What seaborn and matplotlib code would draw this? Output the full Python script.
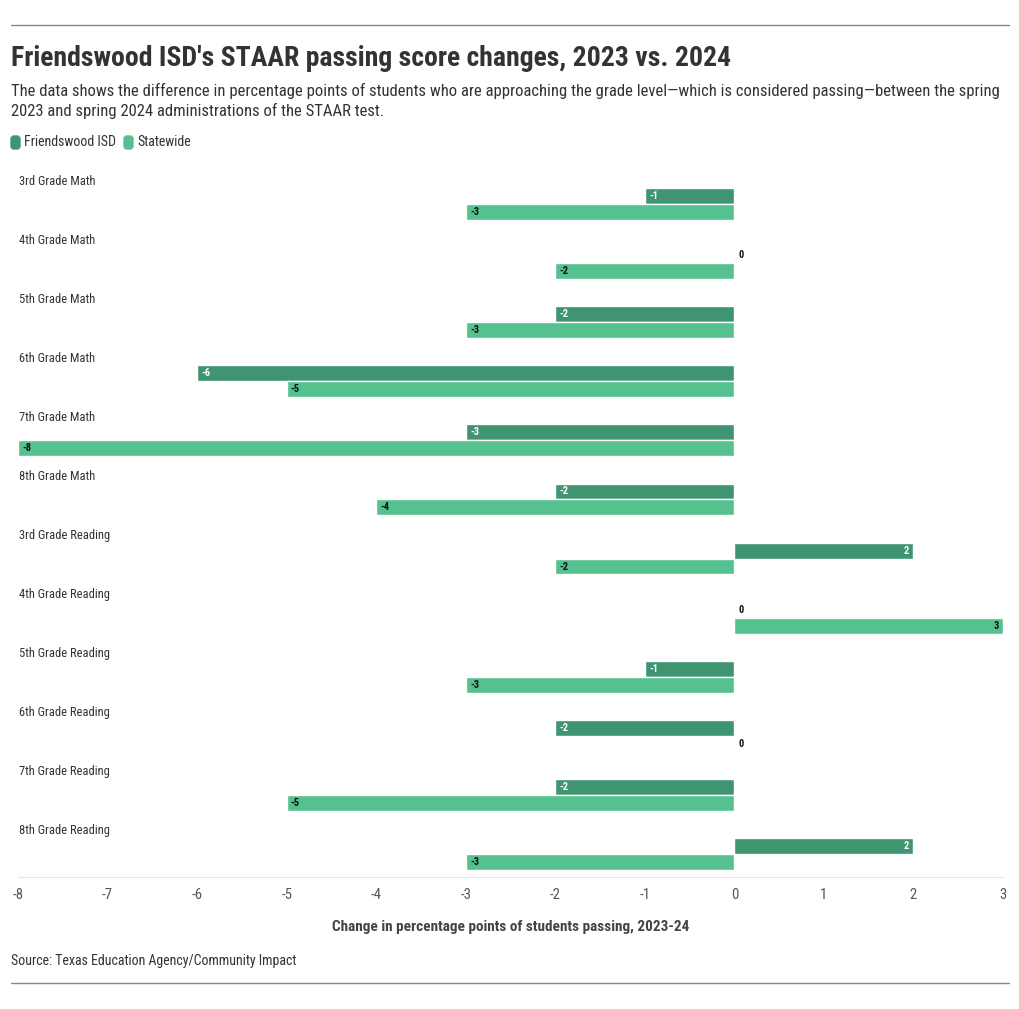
import pandas as pd
import numpy as np
import matplotlib.pyplot as plt
import seaborn as sns
from matplotlib.lines import Line2D
from matplotlib.patches import FancyBboxPatch

# Data

categories = ['3rd Grade Math', '4th Grade Math', '5th Grade Math', '6th Grade Math',
              '7th Grade Math', '8th Grade Math', '3rd Grade Reading', '4th Grade Reading',
              '5th Grade Reading', '6th Grade Reading', '7th Grade Reading', '8th Grade Reading']
friendswood = [-1, 0, -2, -6, -3, -2, 2, 0, -1, -2, -2, 2]
statewide = [-3, -2, -3, -5, -8, -4, -2, 3, -3, 0, -5, -3]
groups = ['Friendswood ISD', 'Statewide']
colors = ['#3f9571', '#55c18f']
x_ticks = list(range(-8, 4))

df = pd.DataFrame({
    'category': categories * 2,
    'change': friendswood + statewide,
    'group': [groups[0]] * len(categories) + [groups[1]] * len(categories),
})

sns.set_style('white')
plt.rcParams['font.family'] = ['Roboto Condensed', 'Roboto', 'DejaVu Sans']

W, H = 1020, 1009
fig = plt.figure(figsize=(W / 100, H / 100), dpi=100)
ax = fig.add_axes([18 / W, 1 - 877 / H, 985 / W, (877 - 168.6) / H])

sns.barplot(data=df, x='change', y='category', hue='group', orient='h',
            palette=colors, saturation=1, width=0.54, edgecolor='white', linewidth=1,
            legend=False, ax=ax)

ax.set_xlim(-8, 3)
ax.set_ylim(11.39, -0.6)
ax.set_xticks(x_ticks)
ax.set_xticklabels([str(t) for t in x_ticks], fontsize=10.5, color='#555555')
ax.tick_params(axis='x', length=3, color='#e6e6e6', pad=5)
ax.set_yticks([])
ax.set_ylabel('')
ax.set_xlabel('Change in percentage points of students passing, 2023-24',
              fontsize=11, fontweight='bold', color='#444444', labelpad=13)
for s in ['top', 'right', 'left']:
    ax.spines[s].set_visible(False)
ax.spines['bottom'].set_color('#e6e6e6')

# category labels above each group
for i, cat in enumerate(categories):
    ax.text(-7.99, i - 0.39, cat, fontsize=9, color='#333333', va='center', ha='left')

# value labels
txt_colors = ['white', '#111111']
for k, cont in enumerate(ax.containers):
    vals = friendswood if k == 0 else statewide
    for rect, v in zip(cont, vals):
        yc = rect.get_y() + rect.get_height() / 2
        if v < 0:
            ax.annotate(str(v), (v, yc), xytext=(3, 0), textcoords='offset points',
                        ha='left', va='center', fontsize=7.5, fontweight='bold',
                        color=txt_colors[k])
        elif v > 0:
            ax.annotate(str(v), (v, yc), xytext=(-3, 0), textcoords='offset points',
                        ha='right', va='center', fontsize=7.5, fontweight='bold',
                        color=txt_colors[k])
        else:
            ax.annotate('0', (0, yc), xytext=(3, 0), textcoords='offset points',
                        ha='left', va='center', fontsize=7.5, fontweight='bold',
                        color='#111111')

# header / footer
fig.add_artist(Line2D([11 / W, 1009 / W], [1 - 25 / H] * 2, color='#888888', lw=1))
fig.add_artist(Line2D([11 / W, 1009 / W], [1 - 983 / H] * 2, color='#888888', lw=1))
fig.text(11 / W, 1 - 66 / H, "Friendswood ISD's STAAR passing score changes, 2023 vs. 2024",
         fontsize=20, fontweight='bold', color='#333333', va='baseline')
fig.text(11 / W, 1 - 96 / H,
         'The data shows the difference in percentage points of students who are approaching the grade level\u2014which is considered passing\u2014between the spring',
         fontsize=12, color='#333333', va='baseline')
fig.text(11 / W, 1 - 116 / H, '2023 and spring 2024 administrations of the STAAR test.',
         fontsize=12, color='#333333', va='baseline')

# legend
lx = 11
for name, c in zip(groups, colors):
    fig.add_artist(FancyBboxPatch((lx / W, 1 - 149 / H), 9 / W, 13 / H,
                                  boxstyle='round,pad=0,rounding_size=0.003',
                                  transform=fig.transFigure, color=c))
    t = fig.text((lx + 13) / W, 1 - 142 / H, name, fontsize=10, color='#333333', va='center')
    fig.canvas.draw()
    bb = t.get_window_extent()
    lx = bb.x1 + 8

fig.text(11 / W, 1 - 961 / H, 'Source: Texas Education Agency/Community Impact',
         fontsize=10, color='#333333', va='center')

plt.savefig('out.png', dpi=100)
